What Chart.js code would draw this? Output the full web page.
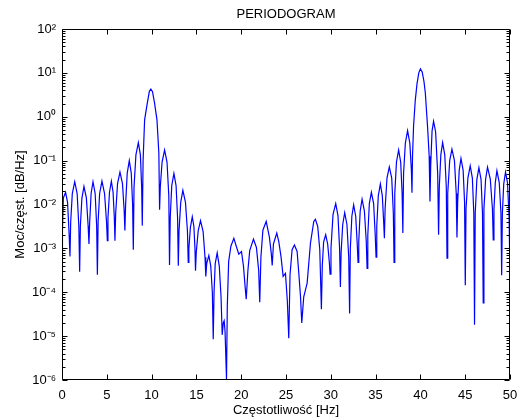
<!DOCTYPE html>
<html><head><meta charset="utf-8">
<script src="https://cdn.jsdelivr.net/npm/chart.js@4.4.1/dist/chart.umd.min.js"></script>
<style>html,body{margin:0;padding:0;background:#fff;}canvas{display:block;}</style>
</head><body>
<canvas id="c" width="521" height="420"></canvas>
<script>
// Frequency (Hz) of each read point
const freqHz = [
  0, 0.05, 0.15, 0.4, 0.62, 0.8, 0.89,
  0.97, 1.15, 1.42, 1.69, 1.88, 1.97,
  2.05, 2.22, 2.45, 2.72, 2.92, 3.01,
  3.09, 3.25, 3.46, 3.7, 3.87, 3.95,
  4.03, 4.2, 4.46, 4.75, 4.97, 5.06,
  5.13, 5.3, 5.51, 5.7, 5.84, 5.91,
  5.99, 6.2, 6.47, 6.75, 6.94, 7.02,
  7.1, 7.28, 7.51, 7.73, 7.88, 7.96,
  8.04, 8.25, 8.52, 8.75, 8.89, 8.96,
  9.05, 9.22, 9.52, 9.75, 9.92, 10.1, 10.33, 10.6, 10.81, 10.89,
  10.97, 11.17, 11.45, 11.72, 11.92, 12.0,
  12.08, 12.25, 12.49, 12.73, 12.9, 12.98,
  13.06, 13.25, 13.49, 13.78, 14.0, 14.09,
  14.16, 14.33, 14.54, 14.72, 14.84, 14.9,
  14.98, 15.2, 15.46, 15.75, 15.96, 16.05,
  16.15, 16.39, 16.6, 16.78, 16.88,
  16.97, 17.1, 17.32, 17.55, 17.75, 17.88,
  18.0, 18.1, 18.2, 18.36,
  18.45, 18.6, 18.85, 19.18, 19.45, 19.73, 20.03, 20.25, 20.45, 20.56,
  20.75, 20.95, 21.37, 21.7, 21.95, 22.07,
  22.2, 22.42, 22.79, 23.15, 23.35, 23.46,
  23.6, 23.97, 24.2, 24.45, 24.68, 24.94, 25.15, 25.31,
  25.45, 25.68, 25.94, 26.24, 26.43, 26.62, 26.76,
  26.98, 27.36, 27.73, 28.1, 28.28, 28.54, 28.77, 28.95,
  29.05, 29.2, 29.43, 29.65, 29.83, 29.92,
  30.02, 30.25, 30.55, 30.8, 30.98, 31.07,
  31.15, 31.33, 31.55, 31.8, 32.0, 32.1,
  32.18, 32.35, 32.55, 32.78, 32.95, 33.04,
  33.12, 33.28, 33.49, 33.75, 33.96, 34.05,
  34.13, 34.3, 34.53, 34.78, 34.96, 35.05,
  35.13, 35.3, 35.53, 35.75, 35.9, 35.98,
  36.06, 36.27, 36.53, 36.8, 36.98, 37.06,
  37.14, 37.33, 37.57, 37.8, 37.96, 38.04,
  38.12, 38.32, 38.57, 38.82, 38.99, 39.06,
  39.12, 39.24, 39.43, 39.62, 39.82, 40.0, 40.2, 40.4, 40.55, 40.8, 40.98, 41.07,
  41.15, 41.3, 41.47, 41.7, 41.93, 42.03,
  42.11, 42.28, 42.48, 42.72, 42.89, 42.97,
  43.05, 43.27, 43.52, 43.8, 44.0, 44.08,
  44.16, 44.33, 44.53, 44.77, 44.93, 45.01,
  45.09, 45.3, 45.56, 45.8, 45.96, 46.04,
  46.12, 46.3, 46.53, 46.77, 46.93, 47.01,
  47.09, 47.28, 47.49, 47.8, 48.04, 48.13,
  48.21, 48.36, 48.54, 48.8, 48.99, 49.07,
  49.15, 49.3, 49.5, 49.72, 49.9, 50.0
];
// Power spectral density read at each point
const psd = [
  6.3e-5, 2.5e-3, 1.41e-2, 1.9e-2, 1.12e-2, 2.0e-3, 6.5e-4,
  4.0e-3, 1.78e-2, 3.3e-2, 1.78e-2, 3.2e-3, 2.95e-4,
  3.2e-3, 1.38e-2, 2.57e-2, 1.41e-2, 3.2e-3, 1.26e-3,
  4.0e-3, 1.78e-2, 3.3e-2, 1.78e-2, 3.2e-3, 2.5e-4,
  4.0e-3, 1.78e-2, 3.4e-2, 1.78e-2, 4.0e-3, 1.5e-3,
  5.0e-3, 1.9e-2, 3.4e-2, 1.9e-2, 5.0e-3, 1.5e-3,
  6.3e-3, 3.0e-2, 5.5e-2, 3.0e-2, 7.1e-3, 2.57e-3,
  1.0e-2, 5.2e-2, 1.0e-1, 5.2e-2, 1.0e-2, 9.3e-4,
  2.5e-2, 1.35e-1, 2.57e-1, 1.35e-1, 2.5e-2, 3.3e-3,
  1.0e-1, 0.85, 2.04, 3.8, 4.27, 3.72, 2.04, 0.85, 0.148, 7.6e-3,
  2.5e-2, 9.3e-2, 0.174, 9.3e-2, 1.58e-2, 4.2e-4,
  5.0e-3, 2.7e-2, 5.1e-2, 2.7e-2, 5.0e-3, 4.0e-4,
  2.5e-3, 1.12e-2, 2.1e-2, 1.12e-2, 2.5e-3, 4.8e-4,
  1.0e-3, 3.0e-3, 5.25e-3, 3.16e-3, 1.0e-3, 3.1e-4,
  7.9e-4, 2.5e-3, 4.3e-3, 2.4e-3, 6.3e-4, 2.3e-4,
  4.5e-4, 6.9e-4, 4.0e-4, 1.0e-4, 8.5e-6,
  1.0e-4, 4.5e-4, 7.9e-4, 4.0e-4, 7.9e-5, 1.07e-5,
  2.0e-5, 2.24e-5, 1.26e-5, 1.05e-6,
  5.0e-5, 5.0e-4, 1.12e-3, 1.7e-3, 1.12e-3, 7.4e-4, 8.5e-4, 4.0e-4, 1.26e-4, 6.9e-5,
  3.16e-4, 8.9e-4, 1.62e-3, 1.05e-3, 3.16e-4, 5.9e-5,
  6.3e-4, 2.6e-3, 4.1e-3, 1.78e-3, 7.9e-4, 4.1e-4,
  1.26e-3, 2.24e-3, 1.41e-3, 6.3e-4, 2.3e-4, 2.7e-4, 6.3e-5, 8.9e-6,
  2.5e-4, 9.3e-4, 1.2e-3, 8.5e-4, 2.7e-4, 7.9e-5, 2.0e-5,
  7.9e-5, 1.62e-4, 1.32e-3, 4.1e-3, 4.6e-3, 3.16e-3, 9.3e-4, 4.1e-5,
  4.0e-4, 1.41e-3, 2.04e-3, 1.26e-3, 5.0e-4, 2.6e-4,
  1.0e-3, 6.0e-3, 1.05e-2, 5.6e-3, 1.0e-3, 1.32e-4,
  7.9e-4, 3.5e-3, 6.5e-3, 3.5e-3, 6.3e-4, 3.3e-5,
  1.0e-3, 5.4e-3, 9.8e-3, 5.4e-3, 1.26e-3, 4.8e-4,
  1.41e-3, 7.1e-3, 1.32e-2, 7.1e-3, 1.41e-3, 3.5e-4,
  2.0e-3, 1.05e-2, 1.9e-2, 1.05e-2, 2.0e-3, 6.3e-4,
  3.2e-3, 1.58e-2, 2.95e-2, 1.58e-2, 4.0e-3, 1.7e-3,
  7.9e-3, 4.0e-2, 7.2e-2, 4.0e-2, 6.3e-3, 4.8e-4,
  1.78e-2, 9.3e-2, 0.174, 9.3e-2, 1.78e-2, 2.24e-3,
  5.0e-2, 0.25, 0.48, 0.25, 6.3e-2, 1.86e-2,
  0.126, 0.63, 2.4, 5.6, 10, 12.3, 10.5, 6.3, 3.47, 0.59, 0.126, 1.17e-2,
  7.9e-2, 0.47, 0.79, 0.45, 5.0e-2, 2.04e-3,
  2.5e-2, 0.135, 0.257, 0.135, 2.5e-2, 6.0e-4,
  1.78e-2, 0.1, 0.182, 0.1, 1.78e-2, 1.78e-3,
  1.12e-2, 6.0e-2, 0.112, 6.0e-2, 1.12e-2, 1.45e-4,
  7.9e-3, 4.0e-2, 7.6e-2, 4.0e-2, 6.3e-3, 1.82e-5,
  6.3e-3, 3.7e-2, 6.9e-2, 3.7e-2, 6.3e-3, 5.75e-5,
  7.9e-3, 3.8e-2, 7.1e-2, 3.8e-2, 7.9e-3, 1.55e-3,
  7.9e-3, 3.16e-2, 5.9e-2, 3.16e-2, 6.3e-3, 2.45e-4,
  6.3e-3, 2.95e-2, 5.5e-2, 3.16e-2, 5.0e-3, 2.0e-4
];
const xTickValues = [0, 5, 10, 15, 20, 25, 30, 35, 40, 45, 50];
const yTickValues = [1e-6, 1e-5, 1e-4, 1e-3, 1e-2, 1e-1, 1, 10, 100];
const yTickLabels = ['10\u207B\u2076', '10\u207B\u2075', '10\u207B\u2074', '10\u207B\u00B3', '10\u207B\u00B2', '10\u207B\u00B9', '10\u2070', '10\u00B9', '10\u00B2'];
const chartTitle = 'PERIODOGRAM';
const xAxisTitle = 'Częstotliwość [Hz]';
const yAxisTitle = 'Moc/częst. [dB/Hz]';

const FONT = "'Liberation Sans', Arial, Helvetica, sans-serif";

const boxTicks = {
  id: 'boxTicks',
  afterDatasetsDraw(chart) {
    const ctx = chart.ctx;
    const a = chart.chartArea;
    const xs = chart.scales.x, ys = chart.scales.y;
    const L = Math.round(a.left) + 0.5, R = Math.round(a.right) - 0.5;
    const T = Math.round(a.top) + 0.5, B = Math.round(a.bottom) - 0.5;
    ctx.save();
    ctx.strokeStyle = '#000';
    ctx.lineWidth = 1;
    ctx.beginPath();
    ctx.rect(L, T, R - L, B - T);
    xTickValues.forEach(v => {
      const px = Math.round(xs.getPixelForValue(v)) + 0.5;
      ctx.moveTo(px, B); ctx.lineTo(px, B - 5);
      ctx.moveTo(px, T); ctx.lineTo(px, T + 5);
    });
    for (let i = 0; i < yTickValues.length; i++) {
      const d = yTickValues[i];
      const py = Math.round(ys.getPixelForValue(d)) + 0.5;
      ctx.moveTo(L, py); ctx.lineTo(L + 5, py);
      ctx.moveTo(R, py); ctx.lineTo(R - 5, py);
      if (i < yTickValues.length - 1) {
        for (let m = 2; m <= 9; m++) {
          const pm = Math.round(ys.getPixelForValue(m * d)) + 0.5;
          ctx.moveTo(L, pm); ctx.lineTo(L + 3, pm);
          ctx.moveTo(R, pm); ctx.lineTo(R - 3, pm);
        }
      }
    }
    ctx.stroke();
    ctx.restore();
  }
};

new Chart(document.getElementById('c'), {
  type: 'line',
  data: {
    datasets: [{
      label: 'PSD',
      data: freqHz.map((f, i) => ({ x: f, y: psd[i] })),
      borderColor: '#0000ff',
      borderWidth: 1.2,
      pointRadius: 0,
      tension: 0,
      fill: false
    }]
  },
  options: {
    responsive: false,
    animation: false,
    layout: { padding: { top: 0, right: 11, left: 0, bottom: 0 } },
    plugins: {
      legend: { display: false },
      tooltip: { enabled: false },
      title: {
        display: true, text: chartTitle, fullSize: false, color: '#000',
        font: { family: FONT, size: 13, weight: 'normal' },
        padding: { top: 7, bottom: 6.4 }
      }
    },
    scales: {
      x: {
        type: 'linear', min: 0, max: 50,
        grid: { display: false }, border: { display: false },
        afterBuildTicks: s => { s.ticks = xTickValues.map(v => ({ value: v })); },
        ticks: { color: '#000', font: { family: FONT, size: 13 }, padding: 0, maxRotation: 0, autoSkip: false },
        title: { display: true, text: xAxisTitle, color: '#000', font: { family: FONT, size: 13 }, padding: { top: 0, bottom: 2 } },
        afterFit: s => { s.height = 40; }
      },
      y: {
        type: 'logarithmic', min: 1e-6, max: 100,
        grid: { display: false }, border: { display: false },
        afterBuildTicks: s => { s.ticks = yTickValues.map(v => ({ value: v })); },
        ticks: {
          color: '#000', font: { family: FONT, size: 13 }, padding: -2, autoSkip: false,
          callback: (v, i) => yTickLabels[i]
        },
        title: { display: true, text: yAxisTitle, color: '#000', font: { family: FONT, size: 13 }, padding: { top: 13, bottom: 0 } },
        afterFit: s => { s.width = 62; }
      }
    }
  },
  plugins: [boxTicks]
});
</script>
</body></html>
